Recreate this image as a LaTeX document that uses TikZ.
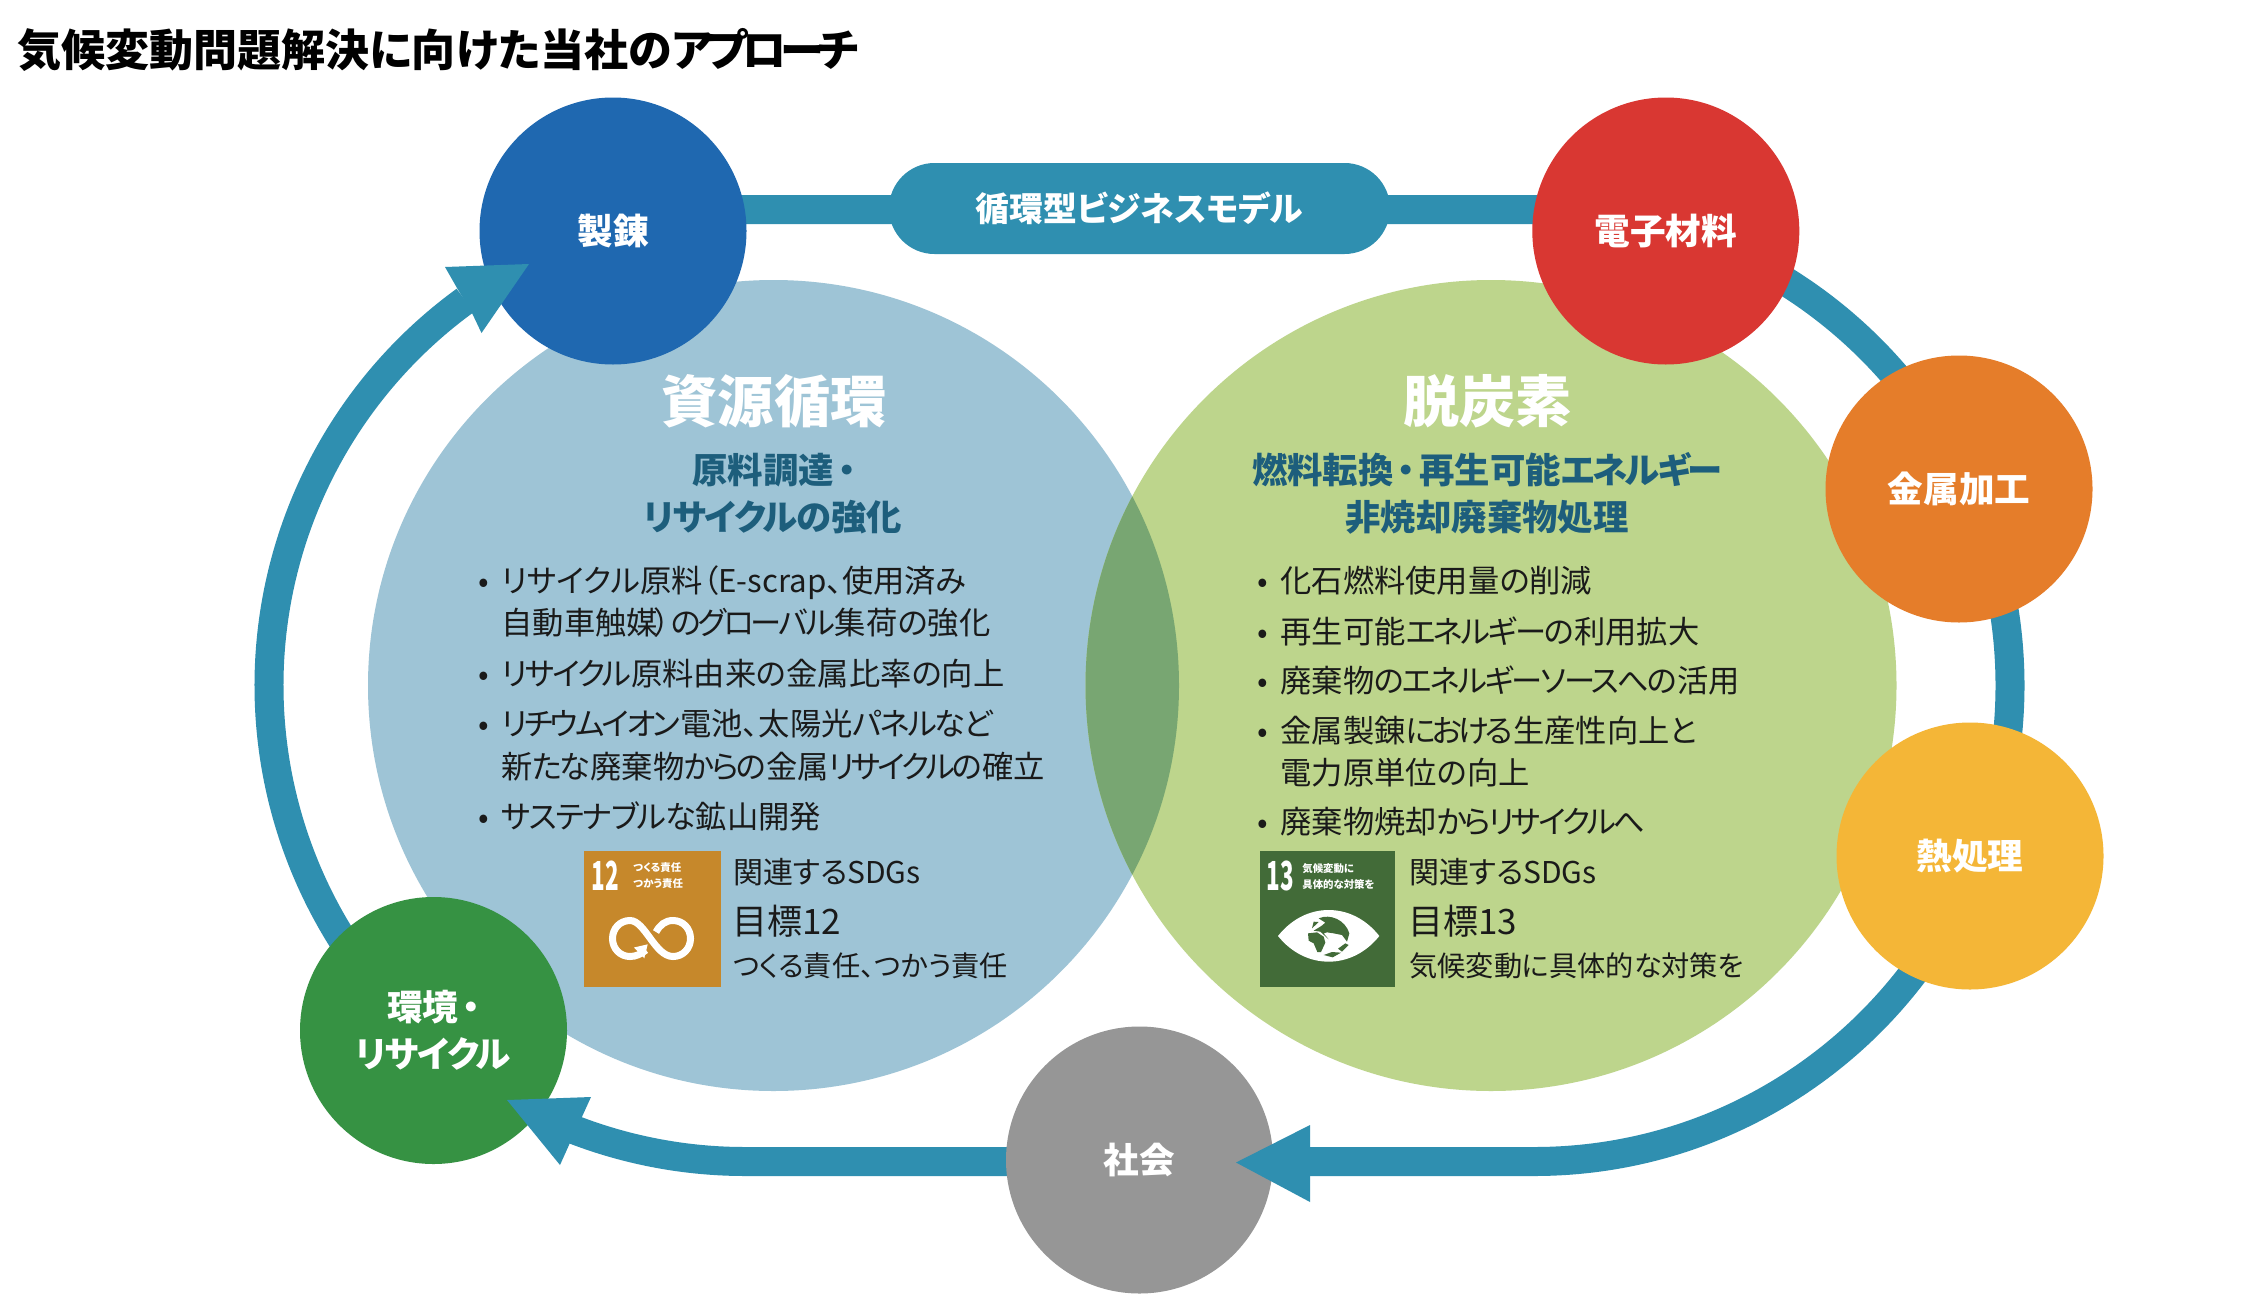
\documentclass[tikz,border=0pt]{standalone}
\usepackage{fontspec}
\usepackage{graphicx}
\usetikzlibrary{calc}
\setmainfont{Noto Sans CJK JP}[RawFeature=+palt]
\newcommand{\ks}[1]{{\addfontfeature{LetterSpace=-7}#1}}
\newcommand{\kt}[1]{{\addfontfeature{LetterSpace=-9}#1}}
\newcommand{\kl}[1]{{\addfontfeature{LetterSpace=-4.5}#1}}
\definecolor{ringc}{HTML}{2F8FB0}
\definecolor{bluebig}{HTML}{9EC4D6}
\definecolor{greenbig}{HTML}{BDD58C}
\definecolor{overlapc}{HTML}{78A672}
\definecolor{headc}{HTML}{1D5E7C}
\definecolor{seirenc}{HTML}{1F68B0}
\definecolor{denshic}{HTML}{D93732}
\definecolor{kinzokuc}{HTML}{E57D2A}
\definecolor{netsuc}{HTML}{F4B637}
\definecolor{shakaic}{HTML}{969696}
\definecolor{kankyoc}{HTML}{369243}
\definecolor{sdgA}{HTML}{C6882B}
\definecolor{sdgB}{HTML}{426B38}
\definecolor{bodyc}{HTML}{1A1A1A}
\tikzset{
  ring/.style={draw=ringc,line width=14.5pt,line cap=butt},
  headtip/.style={fill=ringc,draw=none},
  bigcircle/.style={circle,inner sep=0pt,minimum size=405.5pt},
  station/.style={circle,inner sep=0pt,minimum size=133.5pt,text=white,font=\fontsize{17.8pt}{23.5pt}\selectfont\bfseries,align=center},
  pill/.style={rectangle,rounded corners=22.75pt,fill=ringc,inner sep=0pt,minimum width=250.5pt,minimum height=45.5pt,text=white,font=\fontsize{16.9pt}{20pt}\selectfont\bfseries},
  bigtitle/.style={text=white,font=\fontsize{28.1pt}{30pt}\selectfont\bfseries,inner sep=0pt},
  subhead/.style={text=headc,font=\fontsize{17.7pt}{22pt}\selectfont\bfseries,inner sep=0pt},
  bodytext/.style={text=bodyc,font=\fontsize{15.65pt}{18pt}\selectfont,inner sep=0pt,anchor=west,text height=12pt,text depth=3.5pt},
  sdgbig/.style={text=bodyc,font=\fontsize{17.5pt}{20pt}\selectfont,inner sep=0pt,anchor=west},
  sdgmid/.style={text=bodyc,font=\fontsize{15pt}{18pt}\selectfont,inner sep=0pt,anchor=west},
  sdgsmall/.style={text=bodyc,font=\fontsize{14.1pt}{16pt}\selectfont,inner sep=0pt,anchor=west},
  sdgnum/.style={text=white,font=\fontsize{20pt}{20pt}\selectfont\bfseries,inner sep=0pt,anchor=west},
  sdgtiny/.style={text=white,font=\fontsize{5.2pt}{7.6pt}\selectfont\bfseries,inner sep=0pt,anchor=west,align=left},
}
\newcommand{\bul}[4]{%
  \node[bodytext] (#1b) at (#2-4,#3) {•};
  \node[bodytext] (#1) at (#2+19,#3) {#4};}
\newcommand{\cont}[4]{\node[bodytext] (#1) at (#2+19,#3) {#4};}
\begin{document}
\begin{tikzpicture}[x=0.5pt,y=-0.5pt]
\useasboundingbox (0,0) rectangle (2264,1306);
\fill[white] (0,0) rectangle (2264,1306);

% large circles
\node[bigcircle,fill=bluebig] (blue) at (773.5,685.5) {};
\node[bigcircle,fill=greenbig] (green) at (1491,685.5) {};
\begin{scope}
  \clip (773.5,685.5) circle[radius=405.5];
  \fill[overlapc] (1491,685.5) circle[radius=405.5];
\end{scope}

% cycle
\coordinate (topL) at (613,209.5);
\coordinate (topR) at (1534,209.5);
\coordinate (arrowE) at (1300,1161.5);
\coordinate (socialW) at (1139.5,1161.5);
\coordinate (botL) at (745,1161.5);
\coordinate (envStart) at ($(745,685.5)+(132:476)$);
\draw[ring] (topL) -- (topR) arc[start angle=-90,end angle=90,radius=476] -- (arrowE);
\draw[ring] (socialW) -- (botL) arc[start angle=90,end angle=111,radius=476];
\draw[ring] (envStart) arc[start angle=132,end angle=234,radius=476];

% stations
\node[station,fill=seirenc] (seiren) at (613,231) {製錬};
\node[station,fill=denshic] (denshi) at (1665.8,231) {電子材料};
\node[station,fill=kinzokuc] (kinzoku) at (1959,489) {金属加工};
\node[station,fill=netsuc] (netsu) at (1970,856) {熱処理};
\node[station,fill=shakaic] (shakai) at (1139.5,1160) {社会};
\node[station,fill=kankyoc] (kankyo) at (433.5,1030.5) {環境\kern2pt・\\\kl{リサイクル}};
\node[pill] (model) at (1139.5,208.5) {循環型ビジネスモデル};

% arrowheads
\fill[headtip] (529,264) -- (445,267) -- (457,288) -- (472,313) -- (481.5,333) -- cycle;
\fill[headtip] (507,1100) -- (591,1097) -- (581,1119) -- (569,1145) -- (560,1165) -- cycle;
\fill[headtip] (1236,1162.5) -- (1310,1125) -- (1310,1202) -- cycle;

% title
\node[anchor=west,inner sep=0pt,text=black,font=\fontsize{22pt}{26pt}\selectfont\bfseries] (title) at (17,50) {気候変動問題解決に向けた当社の{\addfontfeature{LetterSpace=-13}アプローチ}};

% left panel
\node[bigtitle] (lefthead) at (774,401) {資源循環};
\node[subhead] (leftsubA) at (775,470) {原料調達\kern2pt・\kern1pt};
\node[subhead] (leftsubB) at (773,517) {\kl{リサイクルの}強化};
\bul{lA}{482}{584}{リサイクル原料（E-scrap、使用済み}
\cont{lAb}{482}{626}{自動車触媒\kern-1.5pt）\kt{のグローバル}集荷\kt{の}強化}
\bul{lB}{482}{676.5}{\ks{リサイクル}原料由来\ks{の}金属比率\ks{の}向上}
\bul{lC}{482}{727}{\kt{リチウムイオン}電池\ks{、}太陽光\ks{パネルなど}}
\cont{lCb}{482}{770}{新\kt{たな}廃棄物\kt{からの}金属{\addfontfeature{LetterSpace=-10}リサイクルの}確立}
\bul{lD}{482}{819.5}{\kl{サステナブルな}鉱山開発}

% right panel
\node[bigtitle] (righthead) at (1487.5,401) {脱炭素};
\node[subhead] (rightsubA) at (1487,470) {燃料転換\kern2pt・\kern2pt再生可能\ks{エネルギー}};
\node[subhead] (rightsubB) at (1487,517) {非焼却廃棄物処理};
\bul{rA}{1261}{584}{化石燃料使用量\ks{の}削減}
\bul{rB}{1261}{634.5}{再生可能\ks{エネルギーの}利用拡大}
\bul{rC}{1261}{683.5}{廃棄物\ks{のエネルギーソースへの}活用}
\bul{rD}{1261}{734}{金属製錬{\addfontfeature{LetterSpace=-12}における}生産性向上{\addfontfeature{LetterSpace=-12}と}}
\cont{rDb}{1261}{776}{電力原単位\kt{の}向上}
\bul{rE}{1261}{825}{廃棄物焼却\kt{からリサイクルへ}}

% SDG 12
\fill[sdgA] (584,851) rectangle (721,987);
\node[sdgnum] (numA) at (591,876) {\scalebox{0.56}[1]{12}};
\node[sdgtiny] (tinyA) at (633,875.5) {つくる責任\\つかう責任};
\draw[white,line width=3.5pt] (646,950) .. controls (641,954) and (636,956.5) .. (630,956.5)
  .. controls (620,956.5) and (612.5,948.5) .. (612.5,938.5)
  .. controls (612.5,928.5) and (620,920.5) .. (630,920.5)
  .. controls (645,920.5) and (655,956.5) .. (673,956.5)
  .. controls (683,956.5) and (690.5,948.5) .. (690.5,938.5)
  .. controls (690.5,928.5) and (683,920.5) .. (673,920.5)
  .. controls (665,920.5) and (660,925) .. (656,932);
\fill[white] (634,947.5) -- (647.7,944.3) -- (644.3,958.3) -- cycle;
\node[sdgmid] (relA) at (733,872) {関連するSDGs};
\node[sdgbig] (goalA) at (732,921) {目標12};
\node[sdgsmall] (nameA) at (733,966) {つくる責任、つかう責任};

% SDG 13
\fill[sdgB] (1260,851) rectangle (1395,987);
\node[sdgnum] (numB) at (1266,876) {\scalebox{0.56}[1]{13}};
\node[sdgtiny] (tinyB) at (1302,876.5) {気候変動に\\具体的な対策を};
\begin{scope}[shift={(1262,900)},x=0.16667pt,y=-0.16667pt]
  \fill[white] (48,108) .. controls (90,55) and (145,30) .. (200,30)
     .. controls (255,30) and (310,55) .. (352,108)
     .. controls (310,160) and (255,185) .. (200,185)
     .. controls (145,185) and (90,160) .. (48,108) -- cycle;
  \fill[sdgB] (170,55) .. controls (205,40) and (250,60) .. (262,100)
     -- (255,125) -- (240,105) -- (215,100) -- (195,97) -- (185,100) -- (200,118) -- (175,95)
     -- (155,92) -- (178,78) -- (190,68) -- cycle;
  \fill[sdgB] (138,100) -- (165,97) -- (185,110) -- (190,128) -- (177,156) -- (166,156) -- (155,130) -- (140,122) -- cycle;
  \fill[sdgB] (185,165) -- (210,156) -- (237,158) -- (212,172) -- cycle;
  \fill[sdgB] (228,146) -- (250,130) -- (260,135) -- (240,155) -- cycle;
  \fill[sdgB] (155,65) -- (170,66) -- (150,85) -- cycle;
\end{scope}
\node[sdgmid] (relB) at (1409,872) {関連するSDGs};
\node[sdgbig] (goalB) at (1408,921) {目標13};
\node[sdgsmall] (nameB) at (1409,966) {気候変動に具体的な対策を};
\end{tikzpicture}
\end{document}
